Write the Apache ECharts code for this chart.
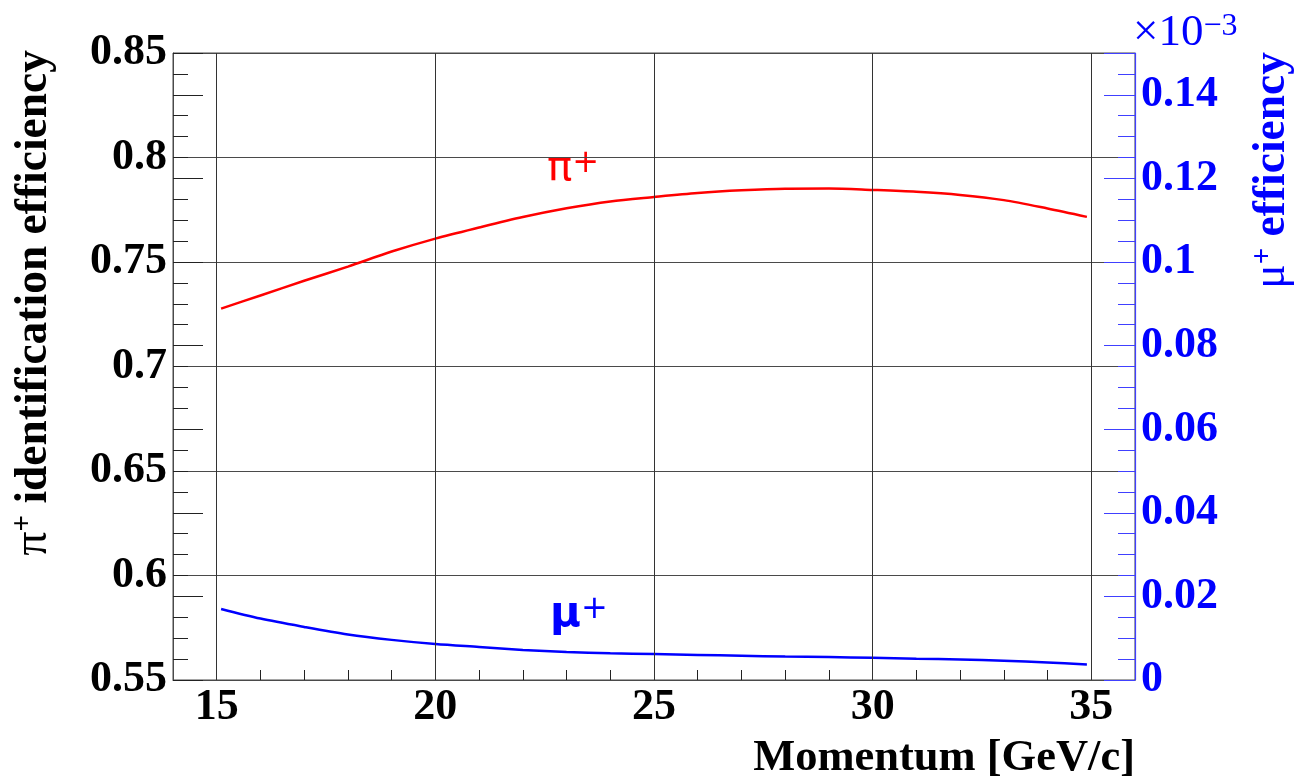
<!DOCTYPE html>
<html><head><meta charset="utf-8">
<script src="https://cdn.jsdelivr.net/npm/echarts@6/dist/echarts.min.js"></script>
<style>html,body{margin:0;padding:0;background:#fff}#c{width:1295px;height:781px}</style>
</head><body><div id="c"></div>
<script>
// Momentum [GeV/c]
const momentum = [15.1, 16, 17, 18, 19, 20, 21, 22, 23, 24, 25, 26, 27, 28, 29, 30, 31, 32, 33, 34, 34.9];
// pi+ identification efficiency (left axis)
const piEff = [0.7277, 0.7340, 0.7410, 0.7478, 0.7550, 0.7612, 0.7665, 0.7715, 0.7757, 0.7790, 0.7811, 0.7830, 0.7843, 0.7851, 0.7852, 0.7845, 0.7836, 0.7821, 0.7796, 0.7756, 0.7716];
// mu+ efficiency (right axis, in units of 1e-3)
const muEff = [0.0170, 0.0147, 0.0127, 0.0109, 0.0096, 0.0086, 0.0079, 0.0072, 0.0067, 0.0064, 0.0062, 0.0060, 0.0058, 0.0056, 0.0055, 0.0053, 0.0051, 0.0049, 0.0046, 0.0042, 0.0037];
// x tick labels / vertical grid lines
const xTickLabels = [15, 20, 25, 30, 35];

const SERIF = '"Liberation Serif", "Times New Roman", serif';
const chart = echarts.init(document.getElementById('c'), null, {renderer: 'canvas'});
const GRIDC = '#4a4a4a';
const BLUE = '#0000ff';

chart.setOption({
  animation: false,
  backgroundColor: '#fff',
  grid: {left: 173, right: 160, top: 53, bottom: 101, show: true, borderColor: GRIDC, borderWidth: 1, containLabel: false},
  xAxis: {
    type: 'value', min: 14, max: 36, interval: 1,
    axisLine: {show: true, onZero: false, lineStyle: {color: GRIDC, width: 1}},
    axisTick: {show: true, inside: true, length: 10, lineStyle: {color: '#222'}},
    splitLine: {show: false},
    axisLabel: {
      margin: 6, color: '#000', fontFamily: SERIF, fontWeight: 'bold', fontSize: 44,
      showMinLabel: false, showMaxLabel: false,
      formatter: v => xTickLabels.indexOf(Math.round(v)) >= 0 && Math.abs(v - Math.round(v)) < 1e-6 ? String(Math.round(v)) : ''
    }
  },
  yAxis: [
    {
      type: 'value', position: 'left', min: 0.55, max: 0.85, interval: 0.05,
      axisLine: {show: true, lineStyle: {color: GRIDC}},
      axisTick: {show: true, inside: true, length: 15, lineStyle: {color: '#222'}},
      minorTick: {show: true, splitNumber: 5, length: 15, lineStyle: {color: '#222'}},
      splitLine: {show: true, lineStyle: {color: GRIDC, width: 1}},
      axisLabel: {margin: 6, color: '#000', fontFamily: SERIF, fontWeight: 'bold', fontSize: 44,
        formatter: v => String(+v.toFixed(2))}
    },
    {
      type: 'value', position: 'right', min: 0, max: 0.15, interval: 0.02,
      axisLine: {show: true, lineStyle: {color: '#4040ff', width: 1.2}},
      axisTick: {show: true, inside: true, length: 31, lineStyle: {color: '#4040ff'}},
      minorTick: {show: true, splitNumber: 4, length: 17, lineStyle: {color: '#4040ff'}},
      splitLine: {show: false},
      axisLabel: {margin: 6, color: BLUE, fontFamily: SERIF, fontWeight: 'bold', fontSize: 44,
        showMaxLabel: false,
        formatter: v => v > 0.145 ? '' : String(+v.toFixed(2))}
    },
    {
      type: 'value', position: 'left', min: 0, max: 0.15, interval: 0.02,
      axisLine: {show: false},
      axisTick: {show: true, inside: true, length: 30, lineStyle: {color: '#222'}},
      splitLine: {show: false},
      axisLabel: {show: false}
    }
  ],
  series: [
    {
      name: 'pi', type: 'line', xAxisIndex: 0, yAxisIndex: 0,
      data: momentum.map((x, i) => [x, piEff[i]]),
      showSymbol: false, smooth: 0.3,
      lineStyle: {color: '#ff0000', width: 2.5},
      markLine: {
        silent: true, symbol: 'none', animation: false,
        label: {show: false},
        lineStyle: {color: '#333', width: 1, type: 'solid'},
        data: xTickLabels.map(v => ({xAxis: v}))
      },
      z: 3
    },
    {
      name: 'mu', type: 'line', xAxisIndex: 0, yAxisIndex: 1,
      data: momentum.map((x, i) => [x, muEff[i]]),
      showSymbol: false, smooth: 0.3,
      lineStyle: {color: BLUE, width: 2.5},
      z: 3
    }
  ],
  graphic: [
    {
      type: 'text', x: 57, y: 50, rotation: Math.PI / 2,
      style: {
        text: '{p|π}{s|+}{t| identification efficiency}',
        align: 'right', verticalAlign: 'bottom', textAlign: 'right', textVerticalAlign: 'bottom',
        fill: '#000',
        rich: {
          p: {fontFamily: SERIF, fontSize: 48, fontWeight: 'normal', fill: '#000', verticalAlign: 'bottom'},
          s: {fontFamily: SERIF, fontSize: 29, fontWeight: 'bold', fill: '#000', verticalAlign: 'top'},
          t: {fontFamily: SERIF, fontSize: 45.5, fontWeight: 'bold', fill: '#000', verticalAlign: 'bottom'}
        }
      }
    },
    {
      type: 'text', x: 1295, y: 52, rotation: Math.PI / 2,
      style: {
        text: '{p|μ}{s|+}{t| efficiency}',
        align: 'right', verticalAlign: 'bottom', textAlign: 'right', textVerticalAlign: 'bottom',
        fill: BLUE,
        rich: {
          p: {fontFamily: SERIF, fontSize: 45.5, fontWeight: 'normal', fill: BLUE, verticalAlign: 'bottom'},
          s: {fontFamily: SERIF, fontSize: 29, fontWeight: 'bold', fill: BLUE, verticalAlign: 'top'},
          t: {fontFamily: SERIF, fontSize: 45.5, fontWeight: 'bold', fill: BLUE, verticalAlign: 'bottom'}
        }
      }
    },
    {
      type: 'text', x: 1135, y: 781,
      style: {text: 'Momentum [GeV/c]', font: 'bold 44.5px ' + SERIF, fill: '#000',
        align: 'right', verticalAlign: 'bottom', textAlign: 'right', textVerticalAlign: 'bottom'}
    },
    {
      type: 'text', x: 1133, y: 56,
      style: {
        text: '{a|×10}{b|−3}', fill: BLUE,
        align: 'left', verticalAlign: 'bottom', textAlign: 'left', textVerticalAlign: 'bottom',
        rich: {
          a: {fontFamily: SERIF, fontSize: 45, fill: BLUE, verticalAlign: 'bottom'},
          b: {fontFamily: SERIF, fontSize: 32, fill: BLUE, verticalAlign: 'top'}
        }
      }
    },
    {
      type: 'text', x: 547, y: 190,
      style: {
        text: '{a|π}{b|+}', fill: '#ff0000',
        align: 'left', verticalAlign: 'bottom', textAlign: 'left', textVerticalAlign: 'bottom',
        rich: {
          a: {fontFamily: '"DejaVu Sans", sans-serif', fontSize: 42, fill: '#ff0000', verticalAlign: 'bottom'},
          b: {fontFamily: '"DejaVu Sans", sans-serif', fontSize: 32, fill: '#ff0000', verticalAlign: 'top'}
        }
      }
    },
    {
      type: 'text', x: 550, y: 636,
      style: {
        text: '{a|μ}{b|+}', fill: BLUE,
        align: 'left', verticalAlign: 'bottom', textAlign: 'left', textVerticalAlign: 'bottom',
        rich: {
          a: {fontFamily: '"DejaVu Sans", sans-serif', fontSize: 42, fontWeight: 'bold', fill: BLUE, verticalAlign: 'bottom'},
          b: {fontFamily: '"DejaVu Sans", sans-serif', fontSize: 32, fill: BLUE, verticalAlign: 'top'}
        }
      }
    }
  ]
});
</script>
</body></html>
